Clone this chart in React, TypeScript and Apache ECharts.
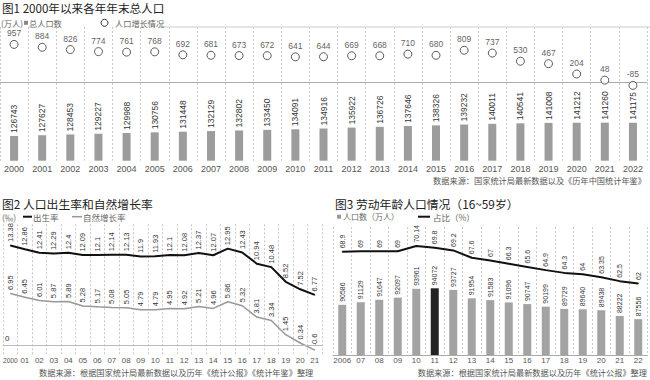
import React, { useEffect, useRef } from "react";
import * as echarts from "echarts";

const years1 = ["2000","2001","2002","2003","2004","2005","2006","2007","2008","2009","2010","2011","2012","2013","2014","2015","2016","2017","2018","2019","2020","2021","2022"];
const totalPop = [126743,127627,128453,129227,129988,130756,131448,132129,132802,133450,134091,134916,135922,136726,137646,138326,139232,140011,140541,141008,141212,141260,141175];
const growth = [957,884,826,774,761,768,692,681,673,672,641,644,669,668,710,680,809,737,530,467,204,48,-85];

const years2 = ["2000","01","02","03","04","05","06","07","08","09","10","11","12","13","14","15","16","17","18","19","20","21"];
const birthRate = [13.38,12.86,12.41,12.29,12.4,12.09,12.1,12.14,12.13,11.9,11.93,12.1,12.08,12.37,12.07,12.95,12.43,10.94,10.48,8.52,7.52,6.77];
const naturalRate = [6.95,6.45,6.01,5.87,5.89,5.28,5.17,5.08,5.05,4.79,4.79,4.95,4.92,5.21,4.96,5.86,5.32,3.81,3.34,1.45,0.34,-0.6];

const years3 = ["2006","07","08","09","10","11","12","13","14","15","16","17","18","19","20","21","22"];
const laborPop = [90586,91129,91647,92097,93961,94072,93727,91954,91583,91096,90747,90199,89729,89640,89438,88222,87556];
const laborShare = [68.9,69,69,69,70.14,69.8,69.2,67.6,67,66.3,65.6,64.9,64.3,64,63.35,62.5,62];
const highlightYear = "11";

const CJK = "'Noto Sans CJK SC', sans-serif";
const NUM = "'Liberation Sans Narrow', 'Liberation Sans', Arial, sans-serif";

function txt(text: string, x: number, y: number, size: number, color: string, align = "left") {
  return {
    type: "text",
    x,
    y,
    silent: true,
    style: {
      text,
      fill: color,
      fontSize: size,
      fontFamily: CJK,
      lineHeight: size,
      align,
      verticalAlign: "middle",
      textAlign: align,
      textVerticalAlign: "middle",
    },
  };
}

function rotLabel(size: number) {
  return {
    show: true,
    position: "top",
    rotate: 90,
    align: "left",
    verticalAlign: "middle",
    distance: 3,
    fontSize: size,
    fontFamily: NUM,
    color: "#333",
  };
}

function catAxis(gridIndex: number, data: string[], size: number, margin: number, font: string, smallLong = false) {
  const axisLabel: any = { interval: 0, fontSize: size, color: "#555", margin, fontFamily: font, lineHeight: size };
  if (smallLong) {
    axisLabel.formatter = (v: string) => (v.length === 4 ? `{s|${v}}` : v);
    axisLabel.rich = { s: { fontSize: size - 1.3, fontFamily: font, color: "#555", lineHeight: size } };
  }
  return {
    type: "category",
    gridIndex,
    data,
    boundaryGap: true,
    axisLine: { show: true, lineStyle: { color: "#aaa", width: 1 } },
    axisTick: { show: false },
    axisLabel,
    splitLine: { show: true, interval: 0, lineStyle: { color: "#c8c8c8", type: [2, 2], width: 1 } },
  };
}

export default function App() {
  const ref = useRef<HTMLDivElement>(null);
  useEffect(() => {
    const chart = echarts.init(ref.current!, null, { renderer: "svg" });
    const option: any = {
      animation: false,
      backgroundColor: "#fff",
      grid: [
        { left: 0, top: 27, width: 647, height: 133.7 },
        { left: 0, top: 224.3, width: 322, height: 131 },
        { left: 333, top: 227, width: 314.5, height: 128 },
      ],
      xAxis: [
        catAxis(0, years1, 9, 4, "'Liberation Sans', Arial, sans-serif"),
        catAxis(1, years2, 8, 1.5, NUM, true),
        catAxis(2, years3, 8, 1.5, NUM),
      ],
      yAxis: [
        { type: "value", gridIndex: 0, min: 100000, max: 245000, show: false },
        { type: "value", gridIndex: 0, min: -2000, max: 1400, show: false },
        { type: "value", gridIndex: 1, min: -1.3, max: 16.2, show: false },
        { type: "value", gridIndex: 2, min: 80000, max: 107000, show: false },
        { type: "value", gridIndex: 2, min: 46.4, max: 74.3, show: false },
      ],
      series: [
        {
          name: "总人口数",
          type: "bar",
          xAxisIndex: 0,
          yAxisIndex: 0,
          data: totalPop,
          barWidth: 8,
          itemStyle: { color: "#9c9c9c" },
          label: rotLabel(8.5),
        },
        {
          name: "人口增长情况",
          type: "scatter",
          xAxisIndex: 0,
          yAxisIndex: 1,
          data: growth,
          symbol: "circle",
          symbolSize: 8,
          itemStyle: { color: "#fff", borderColor: "#333", borderWidth: 1 },
          label: { show: true, position: "top", distance: 2, fontSize: 8.5, fontFamily: NUM, color: "#333" },
        },
        {
          name: "出生率",
          type: "line",
          xAxisIndex: 1,
          yAxisIndex: 2,
          data: birthRate,
          symbol: "circle",
          symbolSize: 1,
          itemStyle: { color: "#111" },
          lineStyle: { color: "#111", width: 2 },
          label: rotLabel(7.5),
        },
        {
          name: "自然增长率",
          type: "line",
          xAxisIndex: 1,
          yAxisIndex: 2,
          data: naturalRate,
          symbol: "circle",
          symbolSize: 1,
          itemStyle: { color: "#999" },
          lineStyle: { color: "#999", width: 1.5 },
          label: rotLabel(7.5),
          markLine: {
            silent: true,
            symbol: "none",
            lineStyle: { color: "#bbb", type: "solid", width: 1 },
            label: { show: true, position: "insideStartTop", formatter: "0", color: "#333", fontSize: 8, fontFamily: NUM, distance: [2, 3] },
            data: [{ yAxis: 0 }],
          },
        },
        {
          name: "人口数",
          type: "bar",
          xAxisIndex: 2,
          yAxisIndex: 3,
          data: laborPop.map((v, i) => ({
            value: v,
            itemStyle: { color: years3[i] === highlightYear ? "#222" : "#a3a3a3" },
          })),
          barWidth: 8,
          label: rotLabel(7),
        },
        {
          name: "占比",
          type: "line",
          xAxisIndex: 2,
          yAxisIndex: 4,
          data: laborShare,
          symbol: "circle",
          symbolSize: 1,
          itemStyle: { color: "#111" },
          lineStyle: { color: "#111", width: 2 },
          label: rotLabel(7),
        },
      ],
      graphic: [
        { type: "line", silent: true, shape: { x1: 160, y1: 27, x2: 650, y2: 27 }, style: { stroke: "#ccc", lineWidth: 1 } },
        txt("图1 2000年以来各年年末总人口", 2, 8.3, 11.6, "#222"),
        txt("(万人)", 1, 22.8, 8.2, "#666"),
        { type: "rect", silent: true, shape: { x: 24, y: 20.8, width: 4, height: 4 }, style: { fill: "#888" } },
        txt("总人口数", 29, 22.8, 8.2, "#666"),
        { type: "circle", silent: true, shape: { cx: 104.5, cy: 22.8, r: 3.5 }, style: { fill: "#fff", stroke: "#333", lineWidth: 1 } },
        txt("人口增长情况", 115, 22.8, 8.2, "#666"),
        txt("数据来源：国家统计局最新数据以及《历年中国统计年鉴》", 646, 179.5, 8.2, "#555", "right"),

        txt("图2 人口出生率和自然增长率", 2, 203.5, 11.8, "#222"),
        txt("(‰)", 2, 216.7, 8.5, "#666"),
        { type: "line", silent: true, shape: { x1: 23, y1: 216.7, x2: 32, y2: 216.7 }, style: { stroke: "#111", lineWidth: 2 } },
        txt("出生率", 33, 216.7, 8.5, "#666"),
        { type: "line", silent: true, shape: { x1: 72, y1: 216.7, x2: 82, y2: 216.7 }, style: { stroke: "#999", lineWidth: 1.5 } },
        txt("自然增长率", 83, 216.7, 8.5, "#666"),
        txt("数据来源：根据国家统计局最新数据以及历年《统计公报》《统计年鉴》整理", 39, 371.5, 8.2, "#555"),

        txt("图3 劳动年龄人口情况（16~59岁）", 335, 203.5, 11.8, "#222"),
        { type: "rect", silent: true, shape: { x: 337, y: 214.7, width: 4, height: 4 }, style: { fill: "#999" } },
        txt("人口数（万人）", 343, 216.7, 8, "#666"),
        { type: "line", silent: true, shape: { x1: 418, y1: 216.7, x2: 430, y2: 216.7 }, style: { stroke: "#111", lineWidth: 2 } },
        txt("占比（%）", 433, 216.7, 8.5, "#666"),
        txt("数据来源：根据国家统计局最新数据以及历年《统计公报》整理", 647, 371.5, 8.2, "#555", "right"),
      ],
    };
    chart.setOption(option);
    return () => chart.dispose();
  }, []);
  return <div ref={ref} style={{ position: "absolute", left: 0, top: 0, width: 650, height: 380 }} />;
}
